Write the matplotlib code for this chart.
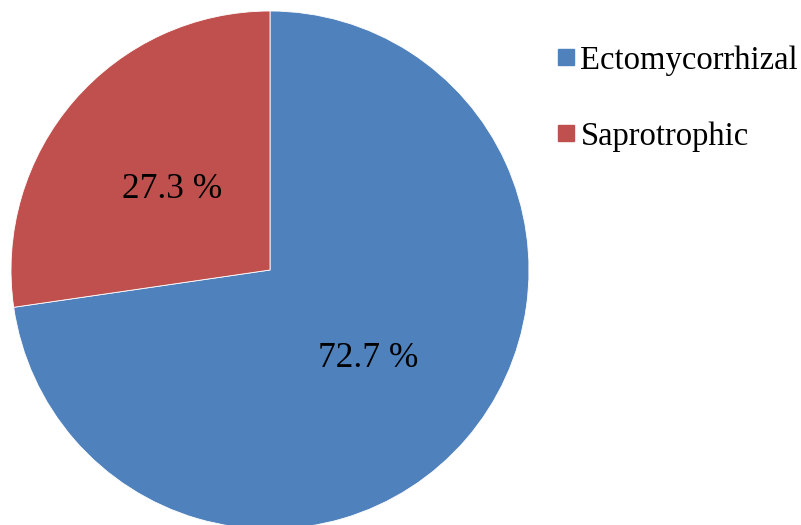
import matplotlib
matplotlib.use("Agg")
import matplotlib.pyplot as plt
from matplotlib.lines import Line2D

# donnees
categories = ["Ectomycorrhizal", "Saprotrophic"]
parts = [72.7, 27.3]
couleurs = ["#4F81BD", "#C0504D"]

plt.rcParams['font.family'] = ['Liberation Serif', 'DejaVu Serif']

fig = plt.figure(figsize=(8.01, 5.25), dpi=100)
ax = fig.add_axes([0, 0, 1, 1])

wedges, textes, autotextes = ax.pie(
    parts, colors=couleurs, startangle=90, counterclock=False,
    center=(270, 255), radius=259, autopct=lambda p: "%.1f %%" % p,
    pctdistance=0.5, wedgeprops=dict(edgecolor="white", linewidth=0.6),
    textprops=dict(fontsize=25.5, color="black"))
for t in autotextes:
    t.set_va("center_baseline")

ax.set_xlim(0, 801)
ax.set_ylim(0, 525)
ax.set_aspect("equal")
ax.axis("off")

poignees = [Line2D([], [], marker="s", linestyle="none", markersize=11.5,
                   markerfacecolor=c, markeredgecolor=c) for c in couleurs]
fig.legend(poignees, categories, loc="upper left", bbox_to_anchor=(556/801, 1 - 45/525),
           frameon=False, fontsize=23.5, handlelength=0.6, handletextpad=0.15,
           labelspacing=1.4, borderpad=0, borderaxespad=0)

fig.savefig("out.png", dpi=100)
